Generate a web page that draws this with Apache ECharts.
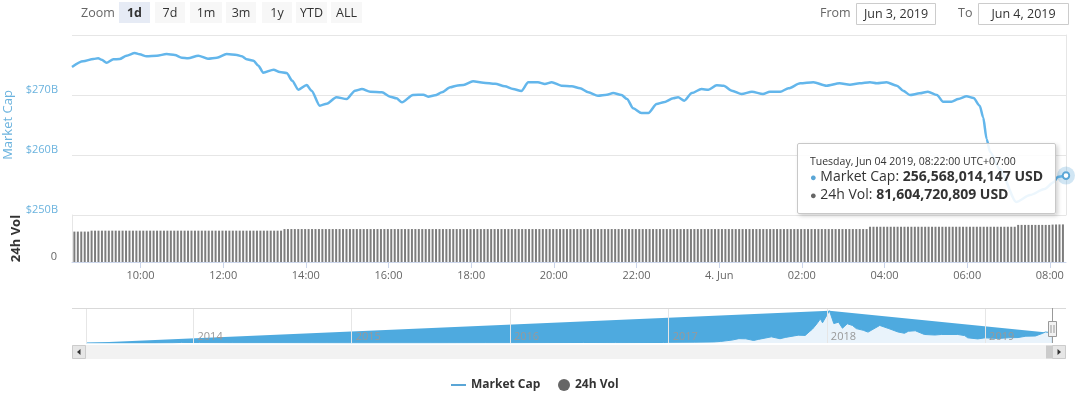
<!DOCTYPE html>
<html><head><meta charset="utf-8">
<script src="https://cdn.jsdelivr.net/npm/echarts/dist/echarts.min.js"></script>
<style>html,body{margin:0;padding:0;background:#fff}#c{width:1080px;height:393px}</style>
</head><body><div id="c"></div>
<script>
// ---------------- DATA ----------------
// Market cap (billions USD), Jun 3 08:22 -> Jun 4 08:22 (UTC+07:00 clock)
const capTimes = [
 '06-03 08:22','06-03 08:38','06-03 08:53','06-03 09:00','06-03 09:05','06-03 09:12','06-03 09:22','06-03 09:31','06-03 09:41','06-03 09:53',
 '06-03 10:00','06-03 10:10','06-03 10:25','06-03 10:39','06-03 10:51','06-03 11:01','06-03 11:10','06-03 11:25','06-03 11:39','06-03 11:52',
 '06-03 12:06','06-03 12:21','06-03 12:28','06-03 12:35','06-03 12:45','06-03 12:52','06-03 12:59','06-03 13:14','06-03 13:23','06-03 13:33',
 '06-03 13:41','06-03 13:50','06-03 14:02','06-03 14:09','06-03 14:21','06-03 14:31','06-03 14:45','06-03 15:00','06-03 15:12','06-03 15:22',
 '06-03 15:34','06-03 15:51','06-03 16:03','06-03 16:12','06-03 16:20','06-03 16:36','06-03 16:51','06-03 16:58','06-03 17:08','06-03 17:18',
 '06-03 17:30','06-03 17:39','06-03 17:49','06-03 18:03','06-03 18:18','06-03 18:35','06-03 18:49','06-03 19:01','06-03 19:13','06-03 19:23',
 '06-03 19:37','06-03 19:47','06-03 19:57','06-03 20:11','06-03 20:26','06-03 20:38','06-03 20:50','06-03 21:04','06-03 21:17','06-03 21:26',
 '06-03 21:38','06-03 21:46','06-03 21:55','06-03 22:07','06-03 22:17','06-03 22:29','06-03 22:39','06-03 22:53','06-03 23:00','06-03 23:09',
 '06-03 23:20','06-03 23:34','06-03 23:44','06-03 23:56','06-04 00:06','06-04 00:18','06-04 00:32','06-04 00:47','06-04 01:03','06-04 01:13',
 '06-04 01:28','06-04 01:40','06-04 01:57','06-04 02:16','06-04 02:35','06-04 02:54','06-04 03:09','06-04 03:23','06-04 03:38','06-04 03:48',
 '06-04 04:02','06-04 04:17','06-04 04:26','06-04 04:36','06-04 04:50','06-04 05:02','06-04 05:15','06-04 05:24','06-04 05:36','06-04 05:46',
 '06-04 05:58','06-04 06:08','06-04 06:17','06-04 06:22','06-04 06:27','06-04 06:32','06-04 06:46','06-04 07:10','06-04 07:30','06-04 07:51',
 '06-04 08:04','06-04 08:10','06-04 08:22'
];
const capValues = [
 274.67,275.62,276.00,276.12,275.88,275.38,275.95,276.00,276.55,277.00,
 276.78,276.45,276.55,276.83,276.67,276.22,276.12,276.55,276.05,276.22,
 276.83,276.67,276.45,275.95,275.72,274.88,273.72,274.22,273.83,273.67,
 272.38,270.88,271.67,270.72,268.22,268.55,269.62,269.33,270.72,271.00,
 270.55,270.45,269.72,269.45,268.78,270.00,270.05,269.72,269.95,270.45,
 271.28,271.55,271.67,272.28,272.05,271.88,271.45,271.00,270.67,272.12,
 272.12,271.83,272.12,271.55,271.45,271.12,270.45,269.88,270.05,270.33,
 270.00,269.33,267.78,267.00,267.00,268.50,268.78,269.45,269.62,269.05,
 270.33,271.00,270.87,271.62,271.55,270.72,270.17,270.55,270.17,270.55,
 270.55,271.12,271.95,272.12,271.55,271.95,271.72,271.95,272.12,271.95,
 272.12,271.55,270.72,270.00,270.28,270.55,270.00,268.88,268.88,269.33,
 269.78,269.50,268.22,266.28,262.67,260.50,257.67,252.17,253.33,254.33,
 255.45,256.33,256.568014147
];
// 24h volume (billions USD), one bar every 5 minutes from 08:24
const volStart = '06-03 08:24';
const volValues = [
 66,66,66,66,66,68,68,68,68,68,68,68,
 68,68,68,68,68,68,68,68,68,68,68,68,
 68,68,68,68,68,68,68,68,68,68,68,68,
 68,68,68,68,68,68,68,68,68,68,68,68,
 68,68,68,68,68,68,68,68,68,68,68,68,
 68,71.5,71.5,71.5,71.5,71.5,71.5,71.5,71.5,71.5,71.5,71.5,
 71.5,71.5,71.5,71.5,71.5,71.5,71.5,71.5,71.5,71.5,71.5,71.5,
 71.5,71.5,71.5,71.5,71.5,71.5,71.5,71.5,71.5,71.5,71.5,71.5,
 71.5,71.5,71.5,71.5,71.5,71.5,71.5,71.5,71.5,71.5,71.5,71.5,
 71.5,71.5,71.5,71.5,71.5,71.5,71.5,71.5,71.5,71.5,71.5,71.5,
 71.5,71.5,71.5,71.5,71.5,71.5,71.5,71.5,71.5,71.5,71.5,71.5,
 71.5,71.5,71.5,71.5,71.5,71.5,71.5,71.5,71.5,71.5,71.5,71.5,
 71.5,71.5,71.5,71.5,71.5,71.5,71.5,71.5,71.5,71.5,71.5,71.5,
 71.5,71.5,71.5,71.5,71.5,71.5,71.5,71.5,71.5,71.5,71.5,71.5,
 71.5,71.5,71.5,71.5,71.5,71.5,71.5,71.5,71.5,71.5,71.5,71.5,
 71.5,71.5,71.5,71.5,71.5,71.5,71.5,71.5,71.5,71.5,71.5,71.5,
 71.5,71.5,71.5,71.5,71.5,71.5,71.5,71.5,71.5,71.5,71.5,71.5,
 71.5,71.5,71.5,71.5,71.5,71.5,71.5,71.5,71.5,71.5,71.5,71.5,
 71.5,71.5,71.5,71.5,71.5,71.5,71.5,71.5,71.5,71.5,71.5,71.5,
 71.5,71.5,71.5,76.5,76.5,76.5,76.5,76.5,76.5,76.5,76.5,76.5,
 76.5,76.5,76.5,76.5,76.5,76.5,76.5,76.5,76.5,76.5,76.5,76.5,
 76.5,76.5,76.5,76.5,76.5,76.5,76.5,76.5,76.5,76.5,76.5,76.5,
 76.5,76.5,76.5,76.5,76.5,76.5,76.5,76.5,76.5,76.5,80.5,80.5,
 80.5,80.5,80.5,80.5,80.5,80.5,80.5,80.5,81.2,81.4,81.5,81.604720809
];
// Navigator: total market cap history (billions USD)
const navDates = [
 '2013-04-28','2013-07-05','2013-10-01','2013-11-15','2013-12-04','2014-01-15','2014-04-01','2014-07-01','2014-10-01','2015-01-15',
 '2015-04-01','2015-07-01','2015-11-05','2016-01-01','2016-06-18','2016-09-01','2016-12-20','2017-01-04','2017-03-01','2017-04-15',
 '2017-05-01','2017-05-27','2017-06-12','2017-06-28','2017-07-16','2017-07-27','2017-08-26','2017-09-15','2017-09-27','2017-10-27',
 '2017-11-12','2017-11-21','2017-11-29','2017-12-09','2017-12-17','2017-12-22','2017-12-26','2018-01-07','2018-01-17','2018-01-28',
 '2018-02-06','2018-02-17','2018-03-01','2018-03-10','2018-03-26','2018-04-06','2018-05-03','2018-05-24','2018-06-14','2018-06-29',
 '2018-07-08','2018-07-24','2018-08-14','2018-09-07','2018-09-22','2018-10-30','2018-11-15','2018-11-22','2018-12-15','2019-01-01',
 '2019-01-30','2019-02-24','2019-03-18','2019-04-05','2019-04-27','2019-05-14','2019-05-20','2019-05-30','2019-06-04'
];
const navValues = [
 1.5,1.0,1.8,6,15,11,7,8,5.5,3.5,
 3.5,4,6.5,7,13,10,13,18,22,28,
 40,75,112,108,65,93,158,110,143,201,
 195,284,360,495,621,520,553,830,500,535,
 380,495,452,370,327,280,452,370,284,250,
 302,315,219,205,219,219,190,133,105,133,
 115,135,140,175,180,250,284,270,256
];
const yTicks = [250, 260, 270, 280];
const zoomLabels = ['1d','7d','1m','3m','1y','YTD','ALL'];

// ---------------- HELPERS ----------------
const FONT = '"Open Sans", "Noto Sans", sans-serif';
const MON = ['Jan','Feb','Mar','Apr','May','Jun','Jul','Aug','Sep','Oct','Nov','Dec'];
const DAYS = ['Sunday','Monday','Tuesday','Wednesday','Thursday','Friday','Saturday'];
function ts(s){ const [md, hm] = s.split(' '); const [mo, d] = md.split('-').map(Number); const [h, m] = hm.split(':').map(Number); return Date.UTC(2019, mo-1, d, h, m); }
function tsDate(s){ const [y,m,d] = s.split('-').map(Number); return Date.UTC(y, m-1, d); }
const pad = n => String(n).padStart(2,'0');
const LINE = '#5aa6d6';

const capData = capTimes.map((t,i)=>[ts(t), capValues[i]]);
const v0 = ts(volStart);
const volData = volValues.map((v,i)=>[v0 + i*5*60000, v]);
const navData = navDates.map((d,i)=>[tsDate(d), navValues[i]]);
let peakI = 0; navValues.forEach((v,i)=>{ if(v>navValues[peakI]) peakI=i; });
const navEnv = [navData[0], navData[peakI], navData[navData.length-1]];
const xMin = capData[0][0], xMax = capData[capData.length-1][0];
const last = capData[capData.length-1];
const lastVol = volValues[volValues.length-1];

function fmtDay(t){ const d=new Date(t); return MON[d.getUTCMonth()]+' '+d.getUTCDate()+', '+d.getUTCFullYear(); }
function fmtNum(b){ return Math.round(b*1e9).toLocaleString('en-US'); }
function tipHtml(){
  const d = new Date(last[0]);
  const head = DAYS[d.getUTCDay()]+', '+MON[d.getUTCMonth()]+' '+pad(d.getUTCDate())+' '+d.getUTCFullYear()+', '+
    pad(d.getUTCHours())+':'+pad(d.getUTCMinutes())+':00 UTC+07:00';
  return '<div style="font-size:10.5px;line-height:14px;color:#333">'+head+'</div>'+
    '<div style="font-size:14px;line-height:16.5px;color:#333;white-space:nowrap"><span style="color:'+LINE+';font-size:11px">\u25CF</span> Market Cap: <b>'+fmtNum(last[1])+' USD</b></div>'+
    '<div style="font-size:14px;line-height:16.5px;color:#333;white-space:nowrap"><span style="color:#666;font-size:11px">\u25CF</span> 24h Vol: <b>'+fmtNum(lastVol)+' USD</b></div>';
}

// ---------------- CHART ----------------
const chart = echarts.init(document.getElementById('c'), null, {renderer:'canvas'});
const option = {
  animation: false,
  useUTC: true,
  backgroundColor: '#fff',
  textStyle: {fontFamily: FONT},
  grid: [
    {left:72, top:35, width:994, height:180, outerBoundsMode:'none', containLabel:false},
    {left:72, top:215, width:994, height:47, outerBoundsMode:'none', containLabel:false},
    {left:86, top:308, width:966, height:35, outerBoundsMode:'none', containLabel:false}
  ],
  xAxis: [
    {type:'time', gridIndex:0, min:xMin, max:xMax, show:false},
    {type:'time', gridIndex:1, min:xMin, max:xMax, splitNumber:11,
      axisLine:{show:true, lineStyle:{color:'#ccd6eb'}},
      axisTick:{show:true, length:6, lineStyle:{color:'#ccd6eb'}},
      splitLine:{show:false},
      axisLabel:{color:'#666', fontSize:11, fontFamily:FONT, margin:8, hideOverlap:false,
        formatter: v => { const d=new Date(v); const h=d.getUTCHours(), m=d.getUTCMinutes();
          if(h===0 && m===0) return d.getUTCDate()+'. '+MON[d.getUTCMonth()];
          return pad(h)+':'+pad(m); }}},
    {type:'time', gridIndex:2, min:navData[0][0], max:xMax, z:3,
      axisLine:{show:false}, axisTick:{show:false},
      splitLine:{show:true, lineStyle:{color:'#e6e6e6'}},
      axisLabel:{inside:true, color:'#999', fontSize:11, fontFamily:FONT, margin:1, align:'left', padding:[0,0,0,4],
        formatter: v => String(new Date(v).getUTCFullYear())}}
  ],
  yAxis: [
    {type:'value', gridIndex:0, min:yTicks[0], max:yTicks[yTicks.length-1], interval:yTicks[1]-yTicks[0],
      name:'Market Cap', nameLocation:'middle', nameRotate:90, nameGap:52,
      nameTextStyle:{color:'#6bb3de', fontSize:13, fontFamily:FONT},
      axisLine:{show:false}, axisTick:{show:false},
      splitLine:{show:true, lineStyle:{color:'#e6e6e6'}},
      axisLabel:{showMaxLabel:false, color:'#6bb3de', fontSize:11, fontFamily:FONT, margin:14, verticalAlign:'bottom',
        formatter: v => '$'+v+'B'}},
    {type:'value', gridIndex:0, position:'right', min:yTicks[0], max:yTicks[yTicks.length-1],
      axisLine:{show:true, lineStyle:{color:'#e6e6e6'}}, axisTick:{show:false}, axisLabel:{show:false}, splitLine:{show:false}},
    {type:'value', gridIndex:1, min:0, max:102, interval:102,
      name:'24h Vol', nameLocation:'middle', nameRotate:90, nameGap:49,
      nameTextStyle:{color:'#333', fontSize:13, fontWeight:'bold', fontFamily:FONT},
      axisLine:{show:true, lineStyle:{color:'#e6e6e6'}}, axisTick:{show:false}, splitLine:{show:false},
      axisLabel:{showMaxLabel:false, color:'#666', fontSize:11, fontFamily:FONT, margin:15, verticalAlign:'bottom'}},
    {type:'value', gridIndex:2, min:0, max:900, show:false}
  ],
  tooltip: {
    show:true, trigger:'axis', triggerOn:'none', alwaysShowContent:true, transitionDuration:0, showDelay:0,
    axisPointer:{type:'none'},
    position: [797, 143],
    backgroundColor:'rgba(255,255,255,0.88)', borderColor:'#c8c8c8', borderWidth:1, padding:[10,12,10,12],
    extraCssText:'box-shadow:2px 2px 4px rgba(0,0,0,0.18);border-radius:2px;',
    textStyle:{fontFamily:FONT, color:'#333'},
    formatter: () => tipHtml()
  },
  legend: [
    {data:['Market Cap'], left:446, top:374, icon:'rect', itemWidth:15, itemHeight:2, itemGap:10,
      textStyle:{color:'#333', fontWeight:'bold', fontSize:12, fontFamily:FONT}},
    {data:[{name:'24h Vol', itemStyle:{color:'#666'}}], left:553, top:374, icon:'circle', itemWidth:12, itemHeight:12,
      textStyle:{color:'#333', fontWeight:'bold', fontSize:12, fontFamily:FONT}}
  ],
  series: [
    {name:'Market Cap', type:'line', xAxisIndex:0, yAxisIndex:0, data:capData, showSymbol:false, smooth:0.25, smoothMonotone:'x',
      color:LINE, lineStyle:{width:2.5, color:LINE}, z:5,
      markPoint:{silent:true, symbol:'circle', label:{show:false}, animation:false,
        data:[{coord:last, symbolSize:18, itemStyle:{color:'rgba(90,166,214,0.28)'}},
              {coord:last, symbolSize:8, itemStyle:{color:LINE, borderColor:'#fff', borderWidth:1}}]}},
    {name:'24h Vol', type:'bar', xAxisIndex:1, yAxisIndex:2, data:volData, barWidth:2, itemStyle:{color:'#7d7d7d'}},
    {name:'navEnvelope', type:'line', xAxisIndex:2, yAxisIndex:3, data:navEnv, showSymbol:false, silent:true,
      lineStyle:{width:0}, areaStyle:{color:'#4eaadf', opacity:1}, z:1},
    {name:'navHistory', type:'line', xAxisIndex:2, yAxisIndex:3, data:navData, showSymbol:false, silent:true,
      lineStyle:{width:1, color:'#4eaadf'}, areaStyle:{color:'#e9f3fb', opacity:1}, z:2}
  ]
};
chart.setOption(option);

// ---------------- DECORATIONS (range selector, inputs, navigator, scrollbar) ----------------
const G = [];
function txt(id, x, y, text, o){ G.push({type:'text', id, z:20, silent:true, style:Object.assign({x, y, text, fill:'#333', font:'12px '+FONT,
  textAlign:'left', textVerticalAlign:'middle', align:'left', verticalAlign:'middle'}, o||{})}); }
function rect(id, x, y, w, h, fill, stroke){ G.push({type:'rect', id, z:19, silent:true, shape:{x, y, width:w, height:h},
  style:{fill, stroke: stroke||'none', lineWidth: stroke?1:0}}); }
function line(id, x1, y1, x2, y2, c){ G.push({type:'line', id, z:19, silent:true, shape:{x1,y1,x2,y2}, style:{stroke:c, lineWidth:1}}); }

txt('zoomLbl', 81, 13, 'Zoom', {fill:'#666', font:'12.5px '+FONT});
const btnX = [119,155,190,226,262,296,331], btnW = [31,30,32,30,30,31,31];
zoomLabels.forEach((l,i)=>{
  rect('b'+i, btnX[i], 2, btnW[i], 21, i===0 ? '#e6ebf5' : '#f7f7f7');
  txt('bt'+i, btnX[i]+btnW[i]/2, 13, l, {textAlign:'center', align:'center', fill:'#333',
    font:(i===0?'bold ':'')+'12.5px '+FONT});
});
txt('fromLbl', 820, 13, 'From', {fill:'#666', font:'12.5px '+FONT});
rect('fromBox', 856.5, 3.5, 79, 21, '#fff', '#cccccc');
txt('fromTxt', 896, 14, fmtDay(xMin), {textAlign:'center', align:'center', fill:'#333', font:'12.5px '+FONT});
txt('toLbl', 958, 13, 'To', {fill:'#666', font:'12.5px '+FONT});
rect('toBox', 978.5, 3.5, 90, 21, '#fff', '#cccccc');
txt('toTxt', 1023.5, 14, fmtDay(xMax), {textAlign:'center', align:'center', fill:'#333', font:'12.5px '+FONT});

// navigator outline & scrollbar
line('navTop', 72, 308.5, 1066, 308.5, '#d9d9d9');
rect('sbBg', 72, 345, 994, 14, '#f2f2f2');
rect('sbL', 72.5, 345.5, 13, 13, '#e6e6e6', '#cccccc');
G.push({type:'polygon', id:'sbLA', z:21, silent:true, shape:{points:[[77,352],[80.5,349],[80.5,355]]}, style:{fill:'#333'}});
rect('sbThumb', 1046, 345.5, 7, 13, '#cccccc');
rect('sbR', 1052.5, 345.5, 13, 13, '#e6e6e6', '#cccccc');
G.push({type:'polygon', id:'sbRA', z:21, silent:true, shape:{points:[[1061,352],[1057.5,349],[1057.5,355]]}, style:{fill:'#333'}});
const hx = Math.round(chart.convertToPixel({xAxisIndex:2}, xMax)) + 0.5;
line('navSel', hx, 308, hx, 343, '#999');
rect('hdl', hx-4, 321.5, 8, 15, '#f2f2f2', '#999');
line('hdl1', hx-1.5, 325, hx-1.5, 333, '#999');
line('hdl2', hx+1.5, 325, hx+1.5, 333, '#999');

chart.setOption({graphic: G});
chart.dispatchAction({type:'showTip', seriesIndex:0, dataIndex:capData.length-1});
</script></body></html>
